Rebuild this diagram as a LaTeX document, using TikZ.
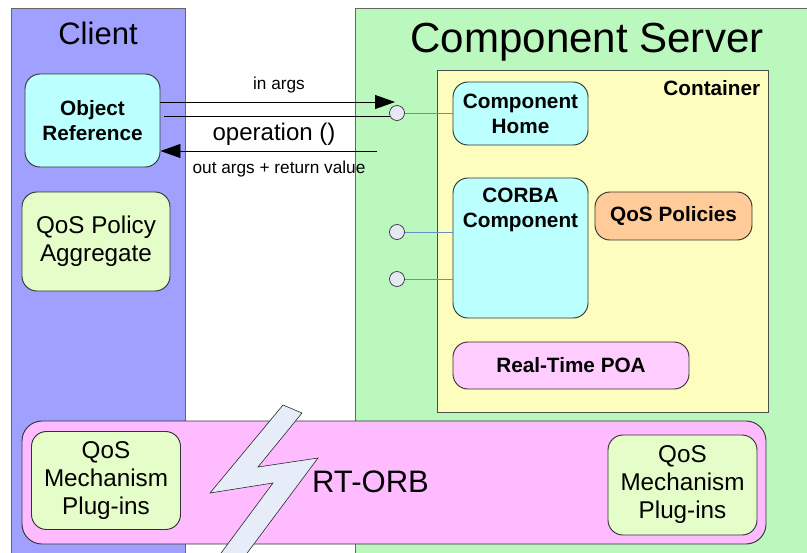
\documentclass[tikz,border=0pt]{standalone}
\usepackage{fontspec}
\setmainfont{Liberation Sans}
\usetikzlibrary{arrows.meta}

\begin{document}
\begin{tikzpicture}[x=0.03cm, y=-0.03cm,
  pannello/.style={draw=bordo, line width=0.8pt},
  scatola/.style={draw=black!80, line width=0.8pt, rounded corners=0.45cm, align=center, inner sep=0pt},
  grassetto/.style={font=\fontsize{17.7}{21.3}\selectfont\bfseries},
  normale/.style={font=\fontsize{20.7}{23.9}\selectfont},
  porta/.style={circle, draw=black!80, fill=colPorta, line width=0.6pt, minimum size=0.45cm, inner sep=0pt},
  filo/.style={draw=colFilo, line width=0.6pt},
  freccia/.style={line width=0.8pt, -{Triangle[length=0.6cm,width=0.42cm]}},
  etichetta/.style={font=\fontsize{14.7}{17}\selectfont}
]

% Colori
\definecolor{colClient}{HTML}{A0A0FF}
\definecolor{colServer}{HTML}{BBF8BE}
\definecolor{colCont}{HTML}{FDFDBE}
\definecolor{colCiano}{HTML}{BBFFFF}
\definecolor{colQos}{HTML}{E5FDC8}
\definecolor{colPolicy}{HTML}{FFCC99}
\definecolor{colPoa}{HTML}{FFCCFF}
\definecolor{colOrb}{HTML}{FFBBFF}
\definecolor{colBolt}{HTML}{E6EDF8}
\definecolor{colPorta}{HTML}{E6E8F5}
\definecolor{colFilo}{HTML}{6A8CC0}
\definecolor{bordo}{HTML}{666666}

% Area del disegno
\clip (0,0) rectangle (807,552);
\fill[white] (0,0) rectangle (807,552);

% Pannelli client e server
\draw[pannello, fill=colClient] (11,8) rectangle (185,570);
\draw[pannello, fill=colServer] (355,8) rectangle (830,570);
\node[font=\fontsize{26.5}{30}\selectfont] (tClient) at (98,33) {Client};
\node[font=\fontsize{35.9}{40}\selectfont] (tServer) at (587,42) {Component Server};

% Lato client
\node[scatola, grassetto, fill=colCiano, minimum width=4.05cm, minimum height=2.79cm] (objref) at (92.5,120.5) {Object\\Reference};
\node[scatola, normale, fill=colQos, minimum width=4.44cm, minimum height=2.97cm] (aggr) at (96,241.5) {QoS Policy\\Aggregate};

% Container
\node[draw=black!70, fill=colCont, line width=0.8pt, minimum width=9.93cm, minimum height=10.26cm, inner sep=0pt] (cont) at (602.5,241) {};
\node[grassetto, anchor=north east, inner sep=0pt] (tCont) at ([xshift=-0.24cm,yshift=-0.33cm]cont.north east) {Container};

\node[scatola, grassetto, fill=colCiano, minimum width=4.05cm, minimum height=1.89cm] (home) at (520.5,113.5) {Component\\Home};
\node[scatola, fill=colCiano, minimum width=4.05cm, minimum height=4.2cm,
  label={[grassetto, align=center, anchor=north, inner sep=0pt, yshift=-0.3cm]north:CORBA\\Component}] (corba) at (520.5,248) {};
\node[scatola, grassetto, fill=colPolicy, minimum width=4.71cm, minimum height=1.44cm] (policy) at (673.5,216) {QoS Policies};
\node[scatola, grassetto, fill=colPoa, minimum width=7.08cm, minimum height=1.41cm] (poa) at (571,365.5) {Real-Time POA};

% ORB
\node[scatola, fill=colOrb, rounded corners=0.6cm, minimum width=22.32cm, minimum height=3.69cm] (orb) at (394,482.5) {};
\node[scatola, normale, fill=colQos, minimum width=4.47cm, minimum height=2.94cm] (mechL) at (106,480.5) {QoS\\Mechanism\\Plug-ins};
\node[scatola, normale, fill=colQos, minimum width=4.47cm, minimum height=3.0cm] (mechR) at (682.5,485) {QoS\\Mechanism\\Plug-ins};

% Fulmine
\draw[fill=colBolt, draw=black!85, line width=0.5pt]
  (283,405) -- (302,413) -- (258,467) -- (318,458) -- (233,572)
  -- (207,572) -- (273,483) -- (210,493) -- cycle;
\node[font=\fontsize{26.5}{30}\selectfont] (tOrb) at (370.5,482) {RT-ORB};

% Porte
\node[porta] (p1) at (397,113) {};
\node[porta] (p2) at (397,232) {};
\node[porta] (p3) at (397,279) {};
\draw[filo] (p1) -- (home.west |- p1);
\draw[filo] (p2) -- (corba.west |- p2);
\draw[filo] (p3) -- (corba.west |- p3);

% Invocazione
\coordinate (inEnd) at (395,102);
\coordinate (outStart) at (377,151);
\draw[freccia] (objref.east |- inEnd) -- (inEnd);
\draw[line width=0.8pt] ([xshift=0.12cm]objref.east |- p1.210) -- (p1.210);
\draw[freccia] (outStart) -- (objref.east |- outStart);
\node[etichetta] (lblIn) at (279,85) {in args};
\node[font=\fontsize{20.5}{24}\selectfont] (lblOp) at (274,134) {operation ()};
\node[etichetta] (lblOut) at (279,169) {out args + return value};

\end{tikzpicture}
\end{document}
